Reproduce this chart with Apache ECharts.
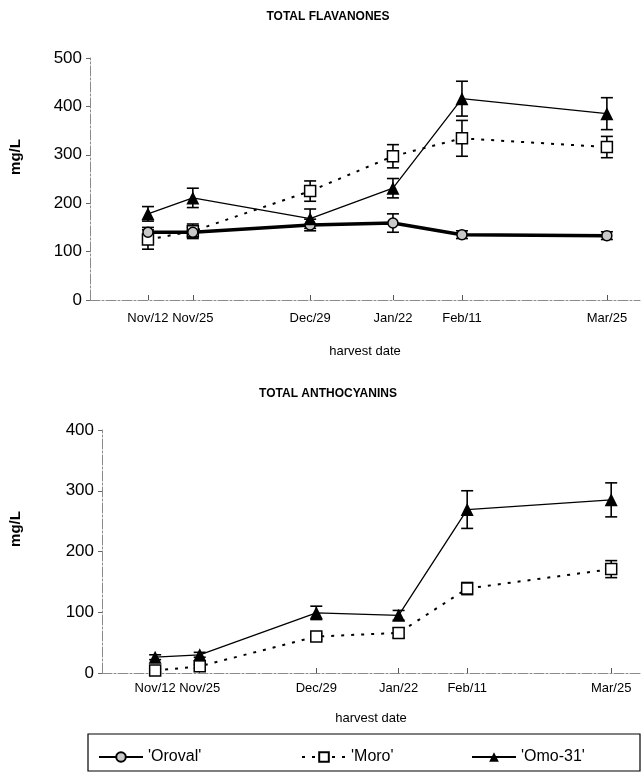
<!DOCTYPE html>
<html>
<head>
<meta charset="utf-8">
<script src="https://cdn.jsdelivr.net/npm/echarts@6/dist/echarts.min.js"></script>
<style>
html,body{margin:0;padding:0;background:#fff;}
#chart{width:644px;height:779px;}
</style>
</head>
<body>
<div id="chart"></div>
<script>
// harvest dates (days after Nov/12)
const dateLabels = ['Nov/12','Nov/25','Dec/29','Jan/22','Feb/11','Mar/25'];
const dateDays = [0, 13, 47, 71, 91, 133];

// TOTAL FLAVANONES (mg/L)
const flavOroval = [140, 140, 155, 159, 135, 133];
const flavOrovalErr = [10, 10, 12, 19, 8, 8];
const flavMoro = [125, 142, 225, 297, 334, 316];
const flavMoroErr = [20, 15, 21, 24, 37, 22];
const flavOmo = [178, 211, 168, 231, 416, 385];
const flavOmoErr = [15, 20, 20, 20, 36, 33];

// TOTAL ANTHOCYANINS (mg/L)
const anthMoro = [4, 11, 60, 66, 139, 171];
const anthMoroErr = [3, 3, 5, 8, 10, 14];
const anthOmo = [26, 30, 99, 95, 269, 285];
const anthOmoErr = [4, 4, 11, 8, 31, 28];

const seriesNames = ["'Oroval'", "'Moro'", "'Omo-31'"];
const chartTitles = ['TOTAL FLAVANONES', 'TOTAL ANTHOCYANINS'];
const yTitle = 'mg/L';
const xTitle = 'harvest date';

const font = 'Liberation Sans, Arial, sans-serif';

function pts(vals) { return dateDays.map((d, i) => [d, vals[i]]); }
function errData(vals, errs) { return dateDays.map((d, i) => [d, vals[i] - errs[i], vals[i] + errs[i]]); }

function errSeries(vals, errs, idx) {
  return {
    type: 'custom', xAxisIndex: idx, yAxisIndex: idx, silent: true, z: 1,
    data: errData(vals, errs),
    encode: { x: 0, y: [1, 2] },
    renderItem: function (params, api) {
      const x = api.value(0);
      const lo = api.coord([x, api.value(1)]);
      const hi = api.coord([x, api.value(2)]);
      const w = 6;
      const st = { stroke: '#000', lineWidth: 1.6, fill: null };
      return {
        type: 'group',
        children: [
          { type: 'line', shape: { x1: lo[0], y1: lo[1], x2: hi[0], y2: hi[1] }, style: st },
          { type: 'line', shape: { x1: lo[0] - w, y1: lo[1], x2: lo[0] + w, y2: lo[1] }, style: st },
          { type: 'line', shape: { x1: hi[0] - w, y1: hi[1], x2: hi[0] + w, y2: hi[1] }, style: st }
        ]
      };
    }
  };
}

const styles = {
  oroval: { symbol: 'circle', symbolSize: 10, itemStyle: { color: '#c8c8c8', borderColor: '#000', borderWidth: 1.5 }, lineStyle: { color: '#000', width: 3.5 } },
  moro: { symbol: 'rect', symbolSize: 11, itemStyle: { color: '#fff', borderColor: '#000', borderWidth: 1.5 }, lineStyle: { color: '#000', width: 2, type: [3, 7] } },
  omo: { symbol: 'triangle', symbolSize: 13, itemStyle: { color: '#000', borderColor: '#000', borderWidth: 0 }, lineStyle: { color: '#000', width: 1.3 } }
};

function lineSeries(name, vals, idx, st, z) {
  return Object.assign({
    name: name, type: 'line', xAxisIndex: idx, yAxisIndex: idx, data: pts(vals),
    showSymbol: true, z: z, animation: false, emphasis: { disabled: true }
  }, JSON.parse(JSON.stringify(st)));
}

function xAxis(idx, min, max, nameGap, labelMargin) {
  return {
    type: 'value', gridIndex: idx, min: min, max: max,
    name: xTitle, nameLocation: 'middle', nameGap: nameGap,
    nameTextStyle: { fontFamily: font, fontSize: 13, color: '#000' },
    splitLine: { show: false },
    axisLine: { show: true, onZero: false, lineStyle: { color: '#8a8a8a', width: 1, type: [10, 2, 2, 2] } },
    axisTick: { show: true, inside: true, length: 5, customValues: dateDays, lineStyle: { color: '#555' } },
    axisLabel: {
      customValues: dateDays, margin: labelMargin,
      fontFamily: font, fontSize: 13, color: '#000',
      formatter: function (v) { const i = dateDays.indexOf(v); return i >= 0 ? dateLabels[i] : ''; }
    }
  };
}

function yAxis(idx, max) {
  return {
    type: 'value', gridIndex: idx, min: 0, max: max, interval: 100,
    splitLine: { show: false },
    axisLine: { show: true, onZero: false, lineStyle: { color: '#8a8a8a', width: 1, type: [10, 2, 2, 2] } },
    axisTick: { show: true, inside: false, length: 4, lineStyle: { color: '#666' } },
    axisLabel: { fontFamily: font, fontSize: 17, color: '#000', margin: 8 }
  };
}

function legend(name, left) {
  return {
    data: [name], left: left, top: 744, orient: 'horizontal',
    itemWidth: 44, itemHeight: 12, itemGap: 10,
    textStyle: { fontFamily: font, fontSize: 16, color: '#000' },
    selectedMode: false
  };
}

function yTitleText(x, y) {
  return { type: 'text', x: x, y: y, rotation: Math.PI / 2,
    style: { text: yTitle, fontFamily: font, fontSize: 15, fontWeight: 'bold', fill: '#000', align: 'center', verticalAlign: 'middle' } };
}

const chart = echarts.init(document.getElementById('chart'), null, { renderer: 'canvas' });
chart.setOption({
  animation: false,
  backgroundColor: '#fff',
  title: [
    { text: chartTitles[0], left: 323, top: 6, textAlign: 'center', textStyle: { fontFamily: font, fontSize: 12, fontWeight: 'bold', color: '#000' } },
    { text: chartTitles[1], left: 323, top: 383, textAlign: 'center', textStyle: { fontFamily: font, fontSize: 12, fontWeight: 'bold', color: '#000' } }
  ],
  grid: [
    { left: 90, right: 4, top: 58, height: 242 },
    { left: 102, right: 4, top: 430, height: 243 }
  ],
  xAxis: [xAxis(0, -16.8, 142.6, 45, 12), xAxis(1, -15.5, 141.4, 39, 9)],
  yAxis: [yAxis(0, 500), yAxis(1, 400)],
  legend: [legend(seriesNames[0], 93), legend(seriesNames[1], 296), legend(seriesNames[2], 466)],
  graphic: [
    yTitleText(16, 157),
    yTitleText(16, 529),
    { type: 'rect', shape: { x: 88, y: 734, width: 552, height: 37 }, style: { fill: null, stroke: '#000', lineWidth: 1.2 }, z: 100 }
  ],
  series: [
    errSeries(flavOroval, flavOrovalErr, 0),
    errSeries(flavMoro, flavMoroErr, 0),
    errSeries(flavOmo, flavOmoErr, 0),
    lineSeries(seriesNames[0], flavOroval, 0, styles.oroval, 4),
    lineSeries(seriesNames[1], flavMoro, 0, styles.moro, 3),
    lineSeries(seriesNames[2], flavOmo, 0, styles.omo, 5),
    errSeries(anthMoro, anthMoroErr, 1),
    errSeries(anthOmo, anthOmoErr, 1),
    lineSeries(seriesNames[1], anthMoro, 1, styles.moro, 3),
    lineSeries(seriesNames[2], anthOmo, 1, styles.omo, 5)
  ]
});
</script>
</body>
</html>
